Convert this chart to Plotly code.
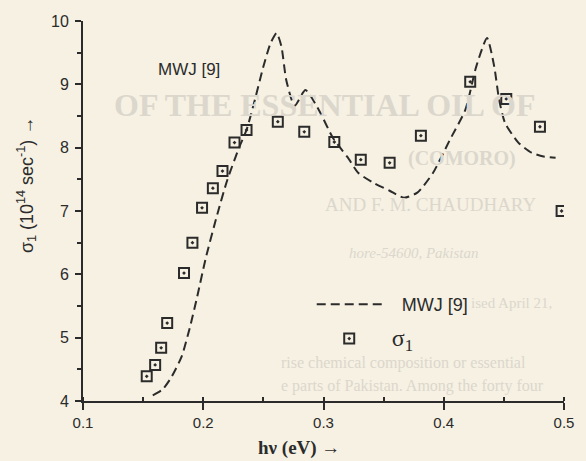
import plotly.graph_objects as go

# --- data -------------------------------------------------------------
# MWJ [9] theoretical curve (dashed)
mwj_energy = [0.158, 0.166, 0.173, 0.182, 0.189, 0.195, 0.202, 0.212, 0.220,
              0.230, 0.236, 0.243, 0.250, 0.256, 0.261, 0.265, 0.269, 0.276,
              0.285, 0.296, 0.308, 0.320, 0.329, 0.342, 0.355, 0.367, 0.378,
              0.391, 0.405, 0.418, 0.427, 0.436, 0.442, 0.446, 0.451, 0.462,
              0.473, 0.483, 0.493]
mwj_sigma = [4.09, 4.18, 4.36, 4.70, 5.17, 5.65, 6.25, 6.97, 7.49,
             8.01, 8.28, 8.76, 9.28, 9.65, 9.81, 9.60, 9.07, 8.66,
             8.91, 8.60, 8.15, 7.85, 7.60, 7.44, 7.32, 7.21, 7.29,
             7.60, 8.12, 8.60, 9.28, 9.73, 9.28, 8.76, 8.39, 8.08,
             7.92, 7.86, 7.84]

# measured sigma_1 (open squares)
sig_energy = [0.153, 0.160, 0.165, 0.170, 0.184, 0.191, 0.199, 0.208, 0.216,
              0.226, 0.236, 0.262, 0.284, 0.309, 0.331, 0.355, 0.381, 0.422,
              0.452, 0.480, 0.498]
sig_values = [4.39, 4.57, 4.84, 5.23, 6.02, 6.50, 7.05, 7.36, 7.63,
              8.08, 8.28, 8.41, 8.25, 8.09, 7.81, 7.76, 8.19, 9.04,
              8.77, 8.33, 7.00]

x_tick_vals = [0.1, 0.2, 0.3, 0.4, 0.5]
x_tick_text = ["0.1", "0.2", "0.3", "0.4", "0.5"]
y_tick_vals = [4, 5, 6, 7, 8, 9, 10]
y_tick_text = ["4", "5", "6", "7", "8", "9", "10"]

# --- styling ----------------------------------------------------------
W, H = 586, 461
ML, MR, MT, MB = 83, 13, 21, 60
PAPER = "#f6f1e3"
INK = "#2b2b2b"
GHOST = "#dcd7cc"
SANS = "Liberation Sans, Arial, sans-serif"
SERIF = "Liberation Serif, Times New Roman, serif"
NBSP = "\u00a0"

pw, ph = W - ML - MR, H - MT - MB


def px(xp, yp):
    """pixel position on the page -> paper coordinates"""
    return (xp - ML) / pw, (H - MB - yp) / ph


fig = go.Figure()

fig.add_trace(go.Scatter(
    x=mwj_energy, y=mwj_sigma, mode="lines", name=NBSP * 3 + "MWJ [9]",
    legendgroup="a",
    line=dict(color=INK, width=2, dash="9px,5px", shape="spline", smoothing=0.6),
))
fig.add_trace(go.Scatter(
    x=sig_energy, y=sig_values, mode="markers",
    name=NBSP + "<span style='font-family:Liberation Serif;font-size:24px'>σ<sub>1</sub></span>",
    legendgroup="b",
    marker=dict(symbol="square-open-dot", size=10, color=INK, line=dict(width=2, color=INK)),
))

annotations = []

# faint show-through print from the reverse of the page
ghost_lines = [
    ("OF THE ESSENTIAL OIL OF", 113, 105, 32, True, False),
    ("(COMORO)", 412, 158, 20, True, False),
    ("AND F. M. CHAUDHARY", 327, 205, 19, False, False),
    ("hore-54600, Pakistan", 352, 253, 15, False, True),
    ("ised April 21,", 476, 303, 15, False, False),
    ("rise chemical composition or essential", 283, 363, 16, False, False),
    ("e parts of Pakistan. Among the forty four", 283, 386, 16, False, False),
]
for text, gx, gy, size, bold, ital in ghost_lines:
    ax_, ay_ = px(gx, gy)
    t = text
    if bold:
        t = "<b>" + t + "</b>"
    if ital:
        t = "<i>" + t + "</i>"
    annotations.append(dict(
        text=t, x=ax_, y=ay_, xref="paper", yref="paper",
        xanchor="left", yanchor="middle", showarrow=False,
        font=dict(family=SERIF, size=size, color=GHOST),
    ))

# curve label inside the plot
annotations.append(dict(
    text="MWJ [9]", x=0.188, y=9.23, xref="x", yref="y",
    xanchor="center", yanchor="middle", showarrow=False,
    font=dict(family=SANS, size=17, color=INK),
))

# axis titles
tx, ty = px(25, 185)
annotations.append(dict(
    text="σ<sub>1</sub> (10<sup>14</sup> sec<sup>-1</sup>) →",
    x=tx, y=ty, xref="paper", yref="paper", textangle=-90,
    xanchor="center", yanchor="middle", showarrow=False,
    font=dict(family=SANS, size=18, color=INK),
))
tx, ty = px(303, 448)
annotations.append(dict(
    text="<b>hν (eV) →</b>", x=tx, y=ty, xref="paper", yref="paper",
    xanchor="center", yanchor="middle", showarrow=False,
    font=dict(family=SERIF, size=19, color=INK),
))

lx, ly = px(316, 286)

fig.update_layout(
    width=W, height=H,
    margin=dict(l=ML, r=MR, t=MT, b=MB, pad=0),
    paper_bgcolor=PAPER, plot_bgcolor=PAPER,
    showlegend=True,
    legend=dict(
        x=lx, y=ly, xanchor="left", yanchor="top",
        bgcolor="rgba(0,0,0,0)", font=dict(family=SANS, size=18, color=INK),
        itemwidth=65, tracegroupgap=8, traceorder="grouped",
    ),
    annotations=annotations,
    xaxis=dict(
        range=[0.1, 0.5], showgrid=False, zeroline=False,
        showline=True, linecolor=INK, linewidth=2,
        tickmode="array", tickvals=x_tick_vals, ticktext=x_tick_text,
        ticks="outside", ticklen=7, tickwidth=2, tickcolor=INK,
        tickfont=dict(family=SANS, size=15, color=INK),
        minor=dict(dtick=0.05, ticks="inside", ticklen=4, tickwidth=2, tickcolor=INK, showgrid=False),
    ),
    yaxis=dict(
        range=[4, 10], showgrid=False, zeroline=False,
        showline=True, linecolor=INK, linewidth=2,
        tickmode="array", tickvals=y_tick_vals, ticktext=y_tick_text,
        ticks="outside", ticklen=6, tickwidth=2, tickcolor=INK,
        ticklabelstandoff=3,
        tickfont=dict(family=SANS, size=16, color=INK),
        minor=dict(dtick=0.5, ticks="outside", ticklen=4, tickwidth=2, tickcolor=INK, showgrid=False),
    ),
)

fig.write_html("out.html")
